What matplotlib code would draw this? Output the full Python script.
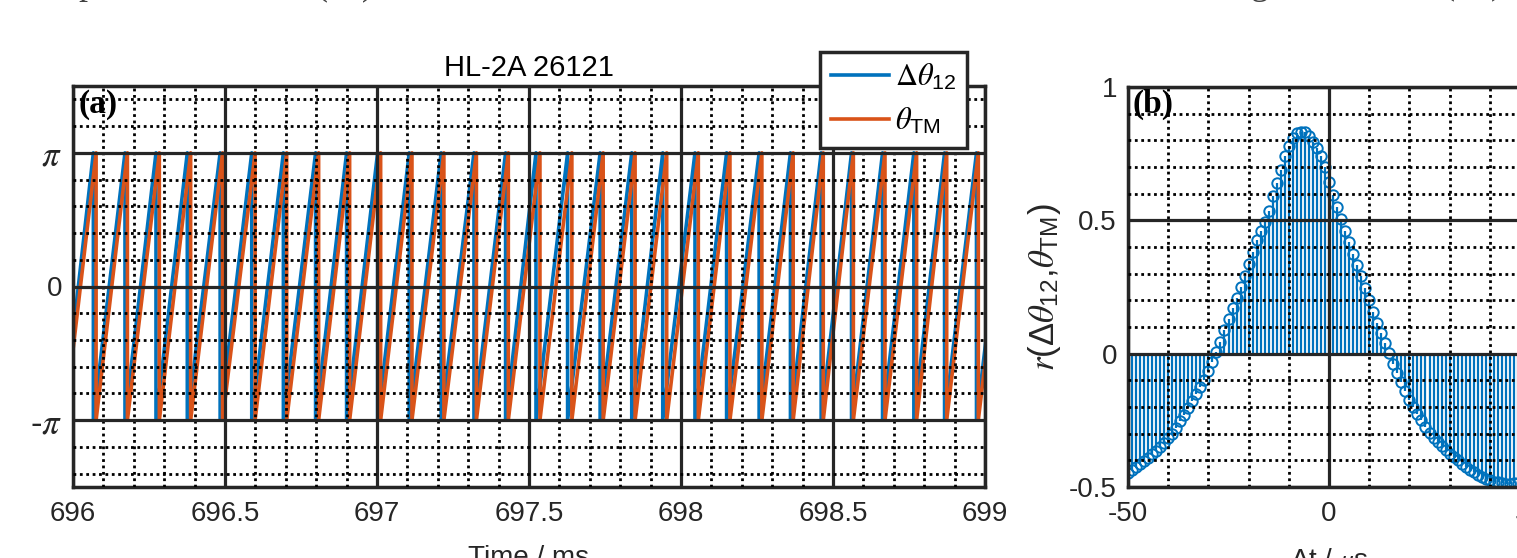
import numpy as np
import matplotlib
matplotlib.use("Agg")
import matplotlib.pyplot as plt
from matplotlib.ticker import MultipleLocator

plt.rcParams["font.family"] = ["Liberation Sans", "DejaVu Sans"]
plt.rcParams["mathtext.fontset"] = "stix"
plt.rcParams["axes.unicode_minus"] = False

# times (ms) where each phase wraps from +pi back to -pi
wrap_dtheta12 = [
    695.968, 696.067, 696.171, 696.273, 696.376, 696.484, 696.588, 696.692,
    696.798, 696.900, 697.002, 697.106, 697.211, 697.319, 697.423, 697.523,
    697.627, 697.734, 697.838, 697.940, 698.046, 698.150, 698.257, 698.360,
    698.461, 698.561, 698.663, 698.766, 698.867, 698.972, 699.076,
]
wrap_theta_tm = [
    695.973, 696.076, 696.179, 696.284, 696.387, 696.492, 696.599, 696.703,
    696.808, 696.910, 697.012, 697.115, 697.220, 697.327, 697.432, 697.536,
    697.641, 697.744, 697.849, 697.953, 698.057, 698.161, 698.266, 698.369,
    698.468, 698.567, 698.671, 698.775, 698.874, 698.978, 699.082,
]
time_ticks = [696, 696.5, 697, 697.5, 698, 698.5, 699]
time_labels = ["696", "696.5", "697", "697.5", "698", "698.5", "699"]

# cross-correlation vs lag (us)
lag_us = list(range(-50, 51))
r_corr = [
    -0.446, -0.436, -0.426, -0.415, -0.403, -0.391, -0.378, -0.364, -0.350, -0.335,
    -0.318, -0.300, -0.278, -0.254, -0.229, -0.203, -0.177, -0.151, -0.125, -0.098,
    -0.066, -0.030,
    0.005, 0.045, 0.088, 0.130, 0.172, 0.210, 0.250, 0.290, 0.335, 0.380,
    0.425, 0.460, 0.495, 0.535, 0.590, 0.640, 0.690, 0.740, 0.780, 0.808,
    0.826, 0.833,
    0.830, 0.815, 0.795, 0.770, 0.740, 0.700, 0.645,
    0.595, 0.550, 0.505, 0.460, 0.418, 0.375, 0.333, 0.290, 0.245, 0.200,
    0.155, 0.115, 0.078, 0.040, 0.003,
    -0.038, -0.072, -0.105, -0.140, -0.175, -0.200, -0.226, -0.250, -0.275, -0.298,
    -0.315, -0.333, -0.348, -0.362, -0.375, -0.388, -0.400, -0.413, -0.425, -0.435,
    -0.445, -0.454, -0.462, -0.469, -0.475, -0.480, -0.483, -0.485, -0.487, -0.487,
    -0.486, -0.485, -0.484, -0.482, -0.480,
]

BLUE = "#0072BD"
ORANGE = "#D95319"
DARK = "#262626"
W, H = 1517, 558


def sawtooth(wraps):
    t, y = [], []
    for a, b in zip(wraps[:-1], wraps[1:]):
        t += [a, b]
        y += [-np.pi, np.pi]
    return t, y


def style(ax):
    ax.grid(which="major", color=DARK, lw=2.3, ls="-")
    ax.grid(which="minor", color="black", lw=2.0, ls=(0, (1, 1.3)))
    ax.set_axisbelow(False)
    for s in ax.spines.values():
        s.set_linewidth(2.5)
        s.set_color(DARK)
    ax.tick_params(which="both", length=0, labelsize=20, labelcolor=DARK)
    ax.tick_params(axis="x", pad=10)
    ax.tick_params(axis="y", pad=8)


fig = plt.figure(figsize=(W / 100, H / 100), dpi=100)

# cut-off text line from the page above
for s, x in [("p", 87), ("( a )", 345), (",", 790), ("g", 1260), ("( b )", 1473)]:
    fig.text(x / W, 1 + 6 / H, s, family="Liberation Serif", fontsize=26,
             color="#404040", ha="center", va="baseline")

# (a) phases
ax1 = fig.add_axes([73 / W, 1 - 487 / H, 912 / W, 401 / H])
t, y = sawtooth(wrap_dtheta12)
ax1.plot(t, y, color=BLUE, lw=2.6, label=r"$\Delta\theta_{\mathregular{12}}$")
t, y = sawtooth(wrap_theta_tm)
ax1.plot(t, y, color=ORANGE, lw=2.6, label=r"$\theta_{\mathregular{TM}}$")
ax1.set_xlim(696, 699)
ax1.set_ylim(-1.5 * np.pi, 1.5 * np.pi)
ax1.set_xticks(time_ticks, time_labels)
ax1.xaxis.set_minor_locator(MultipleLocator(0.1))
ax1.set_yticks([-np.pi, 0, np.pi], ["-$\\pi$", "0", "$\\pi$"])
ax1.yaxis.set_minor_locator(MultipleLocator(np.pi / 5))
style(ax1)
for lbl in ax1.get_yticklabels():
    if "pi" in lbl.get_text():
        lbl.set_fontsize(25)
ax1.set_title("HL-2A 26121", fontsize=21, pad=7, color="black")
ax1.set_xlabel("Time / ms", fontsize=20, labelpad=13, color=DARK)
leg = ax1.legend(loc="upper right", bbox_to_anchor=(967 / W, 1 - 52 / H),
                 bbox_transform=fig.transFigure, fontsize=22, fancybox=False,
                 edgecolor=DARK, framealpha=1, borderpad=0.35, handlelength=1.9,
                 handletextpad=0.2, labelspacing=0.45, borderaxespad=0)
leg.get_frame().set_linewidth(2.5)
fig.text(78 / W, 1 - 104 / H, "(a)", family="Liberation Serif", fontweight="bold",
         fontsize=24, va="center", ha="left")

# (b) correlation
ax2 = fig.add_axes([1128 / W, 1 - 487 / H, 402 / W, 400 / H])
ml, sl, bl = ax2.stem(lag_us, r_corr, linefmt=BLUE, markerfmt="o")
ml.set_markerfacecolor("none")
ml.set_markeredgecolor(BLUE)
ml.set_markersize(7.5)
ml.set_markeredgewidth(1.4)
sl.set_linewidth(1.6)
bl.set_visible(False)
ax2.set_xlim(-50, 50)
ax2.set_ylim(-0.5, 1)
ax2.set_xticks([-50, 0, 50], ["-50", "0", "50"])
ax2.xaxis.set_minor_locator(MultipleLocator(10))
ax2.set_yticks([-0.5, 0, 0.5, 1], ["-0.5", "0", "0.5", "1"])
ax2.yaxis.set_minor_locator(MultipleLocator(0.1))
style(ax2)
ax2.set_xlabel("Δt / $\\mu$s", fontsize=20, labelpad=14, color=DARK)
ax2.set_ylabel("$r$(Δ$\\theta_{\\mathregular{12}}$,$\\theta_{\\mathregular{TM}}$)",
               fontsize=25, labelpad=4, color=DARK)
fig.text(1132 / W, 1 - 104 / H, "(b)", family="Liberation Serif", fontweight="bold",
         fontsize=24, va="center", ha="left")

fig.savefig("out.png", dpi=100)
